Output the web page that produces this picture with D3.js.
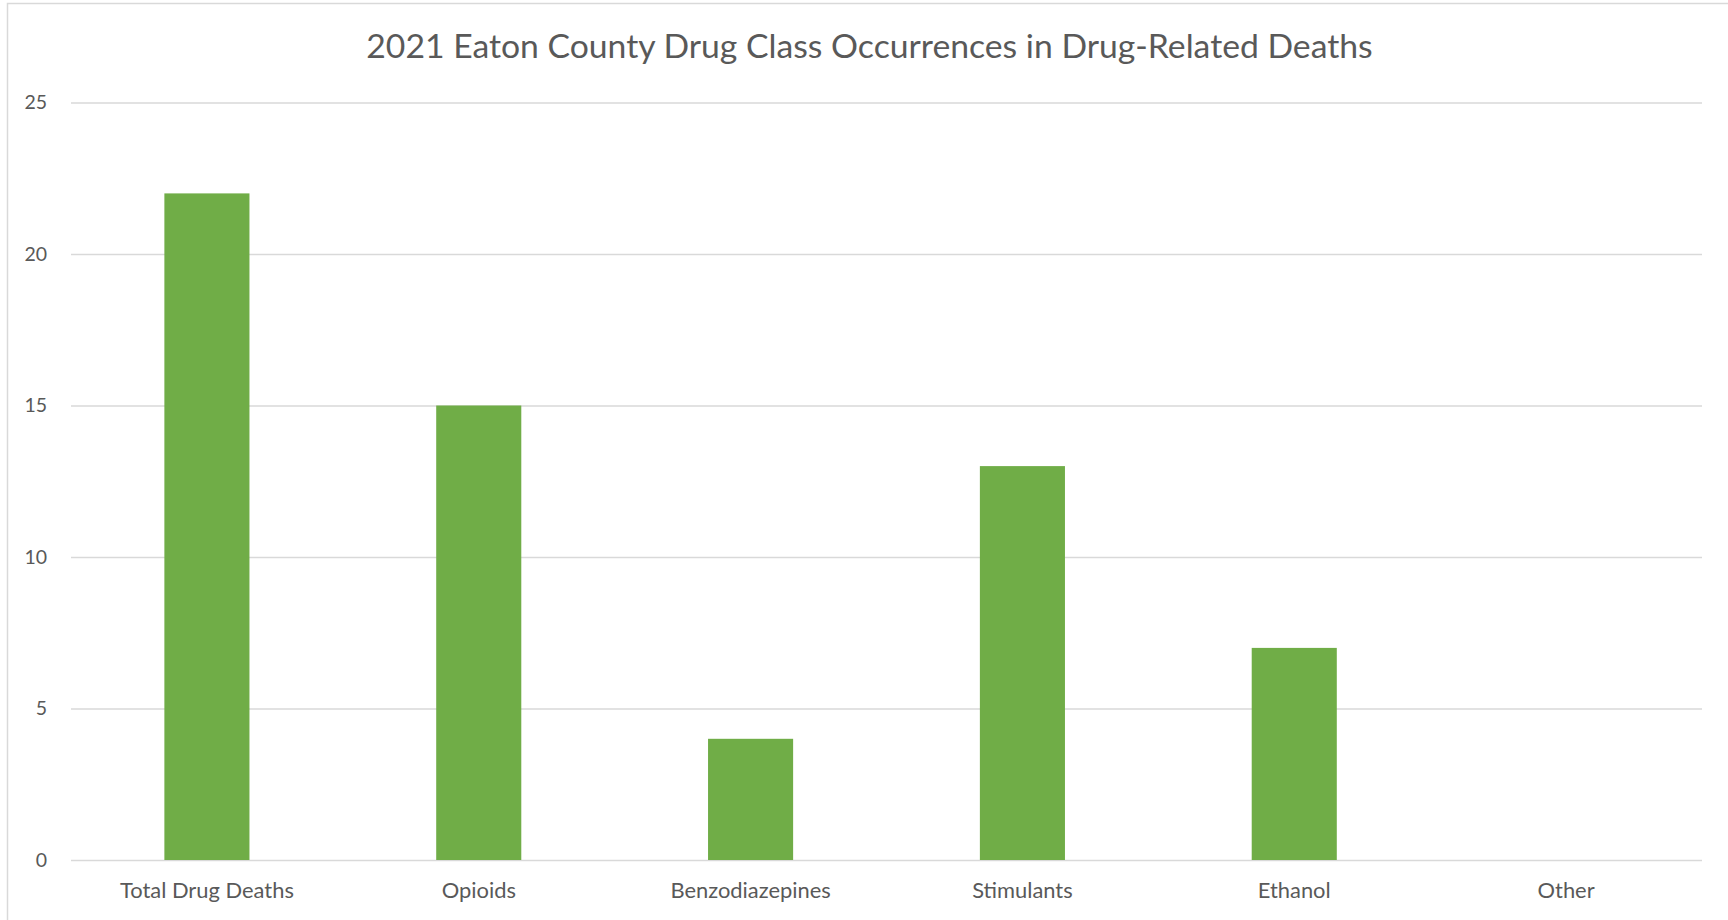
<!DOCTYPE html>
<html>
<head>
<meta charset="utf-8">
<script src="https://cdn.jsdelivr.net/npm/d3@7"></script>
<style>
  html, body { margin: 0; padding: 0; background: #fff; }
  svg { display: block; }
  text { font-family: Lato, "Open Sans", sans-serif; fill: #595959; }
</style>
</head>
<body>
<svg id="chart" width="1728" height="920"></svg>
<script>
const title = "2021 Eaton County Drug Class Occurrences in Drug-Related Deaths";
const categories = ["Total Drug Deaths", "Opioids", "Benzodiazepines", "Stimulants", "Ethanol", "Other"];
const values = [22, 15, 4, 13, 7, 0];
const yTicks = [0, 5, 10, 15, 20, 25];

const W = 1728, H = 920;
const m = { left: 71, right: 1702, top: 102.5, bottom: 860 };
const svg = d3.select("#chart");

// outer chart-area border
svg.append("rect")
  .attr("x", 7.5).attr("y", 3.5)
  .attr("width", W + 10).attr("height", H + 10)
  .attr("fill", "none").attr("stroke", "#d9d9d9").attr("stroke-width", 1.5);

const x = d3.scaleBand().domain(categories).range([m.left, m.right])
  .paddingInner(0.687).paddingOuter(0.3435);
const y = d3.scaleLinear().domain([0, 25]).range([m.bottom, m.top]);

// gridlines + y axis
const yAxis = d3.axisLeft(y).tickValues(yTicks).tickSize(-(m.right - m.left)).tickPadding(24);
const gy = svg.append("g").attr("transform", `translate(${m.left},0)`).call(yAxis);
gy.select(".domain").remove();
gy.selectAll(".tick line").attr("stroke", "#d9d9d9").attr("stroke-width", 1.5);
gy.selectAll(".tick text").attr("font-size", 19.5).attr("fill", "#595959")
  .style("font-family", "Lato, 'Open Sans', sans-serif");

// bars
svg.append("g").selectAll("rect").data(categories).join("rect")
  .attr("x", d => x(d))
  .attr("width", x.bandwidth())
  .attr("y", (d, i) => y(values[i]))
  .attr("height", (d, i) => y(0) - y(values[i]))
  .attr("fill", "#70ad47");

// x axis labels
const xAxis = d3.axisBottom(x).tickSize(0).tickPadding(22);
const gx = svg.append("g").attr("transform", `translate(0,${m.bottom})`).call(xAxis);
gx.select(".domain").remove();
gx.selectAll(".tick text").attr("font-size", 19.5).attr("fill", "#595959")
  .style("font-family", "Lato, 'Open Sans', sans-serif");

// fit label sizes to measured widths
const firstLabel = gx.select(".tick text").node();
const lw = firstLabel.getComputedTextLength();
const ls = 19.5 * 174 / lw;
gx.selectAll(".tick text").attr("font-size", ls);

// title
const t = svg.append("text")
  .attr("x", 869.5).attr("y", 58)
  .attr("text-anchor", "middle")
  .attr("font-size", 31)
  .text(title);
const tw = t.node().getComputedTextLength();
t.attr("font-size", 31 * 1007 / tw);
</script>
</body>
</html>
